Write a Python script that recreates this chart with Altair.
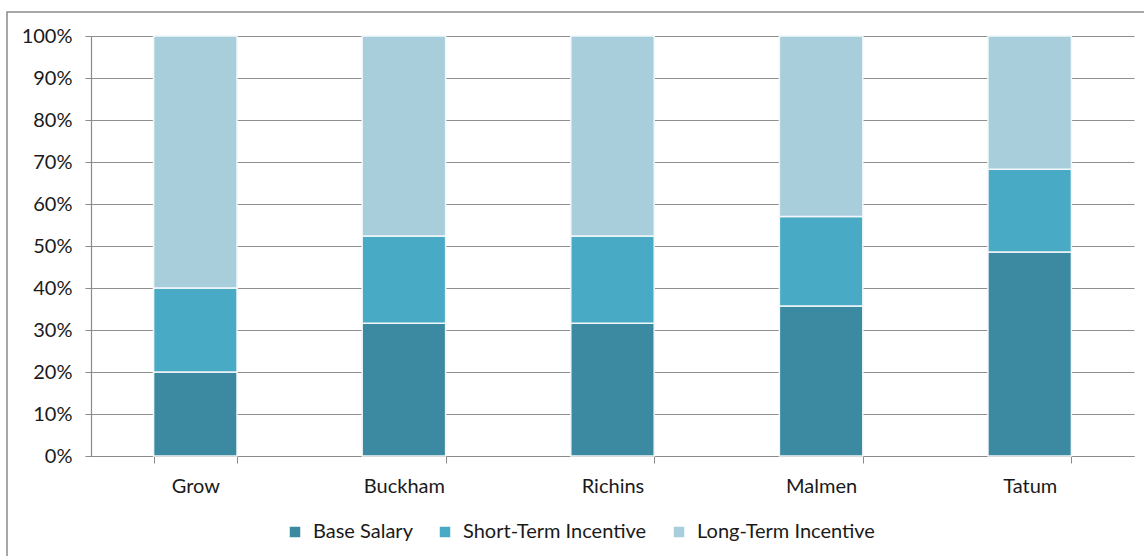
import altair as alt
import pandas as pd

companies = ["Grow", "Buckham", "Richins", "Malmen", "Tatum"]
components = ["Base Salary", "Short-Term Incentive", "Long-Term Incentive"]
base_salary = [0.200, 0.316, 0.316, 0.357, 0.486]
short_term = [0.200, 0.208, 0.208, 0.213, 0.197]
long_term = [0.600, 0.476, 0.476, 0.430, 0.317]
colors = ["#3C8AA2", "#48AAC5", "#A8CEDC"]

rows = []
for i, c in enumerate(companies):
    for j, (comp, vals) in enumerate(zip(components, [base_salary, short_term, long_term])):
        rows.append({"company": c, "component": comp, "order": j, "value": vals[i]})
df = pd.DataFrame(rows)

FONT = "Lato"
FS = 20

bars = alt.Chart(df).mark_bar(stroke="#F2F7F9", strokeWidth=1.5).encode(
    x=alt.X("company:N", sort=companies, title=None,
            scale=alt.Scale(paddingInner=0.6, paddingOuter=0.3),
            axis=alt.Axis(labelAngle=0, labelFontSize=FS, labelColor="#1a1a1a",
                          labelFont=FONT, labelPadding=13, tickBand="extent",
                          tickSize=7, tickColor="#8a8a8a", domainColor="#8a8a8a",
                          domainWidth=1.2, grid=False)),
    y=alt.Y("value:Q", stack="zero", title=None,
            scale=alt.Scale(domain=[0, 1], nice=False),
            axis=alt.Axis(format=".0%", values=[i / 10 for i in range(11)],
                          labelFontSize=FS, labelColor="#1a1a1a", labelFont=FONT,
                          labelPadding=13, tickSize=6, tickColor="#8a8a8a",
                          domainColor="#8a8a8a", domainWidth=1.2,
                          grid=True, gridColor="#8f8f8f", gridWidth=1.2)),
    color=alt.Color("component:N", sort=components,
                    scale=alt.Scale(domain=components, range=colors),
                    legend=alt.Legend(title=None, orient="none", direction="horizontal",
                                      legendX=194, legendY=486, symbolType="square",
                                      symbolSize=110, symbolStrokeWidth=0,
                                      labelFontSize=FS, labelFont=FONT, labelLimit=0,
                                      labelColor="#1a1a1a", columnPadding=22,
                                      labelOffset=8)),
    order=alt.Order("order:Q", sort="ascending"),
)

frame = alt.Chart(alt.Data(values=[{"a": 1}])).mark_rect(
    fill="transparent", stroke="#8a8a8a", strokeWidth=1.5
).encode(
    x=alt.value(-84), x2=alt.value(1200), y=alt.value(-24), y2=alt.value(700)
)

chart = alt.layer(frame, bars).properties(
    width=1043, height=420,
    padding={"left": 91, "top": 36, "right": 10, "bottom": 100},
    autosize=alt.AutoSizeParams(type="none"),
    background="white",
).configure_view(stroke=None)

chart.save("out.html", embed_options={"renderer": "svg", "actions": False})
